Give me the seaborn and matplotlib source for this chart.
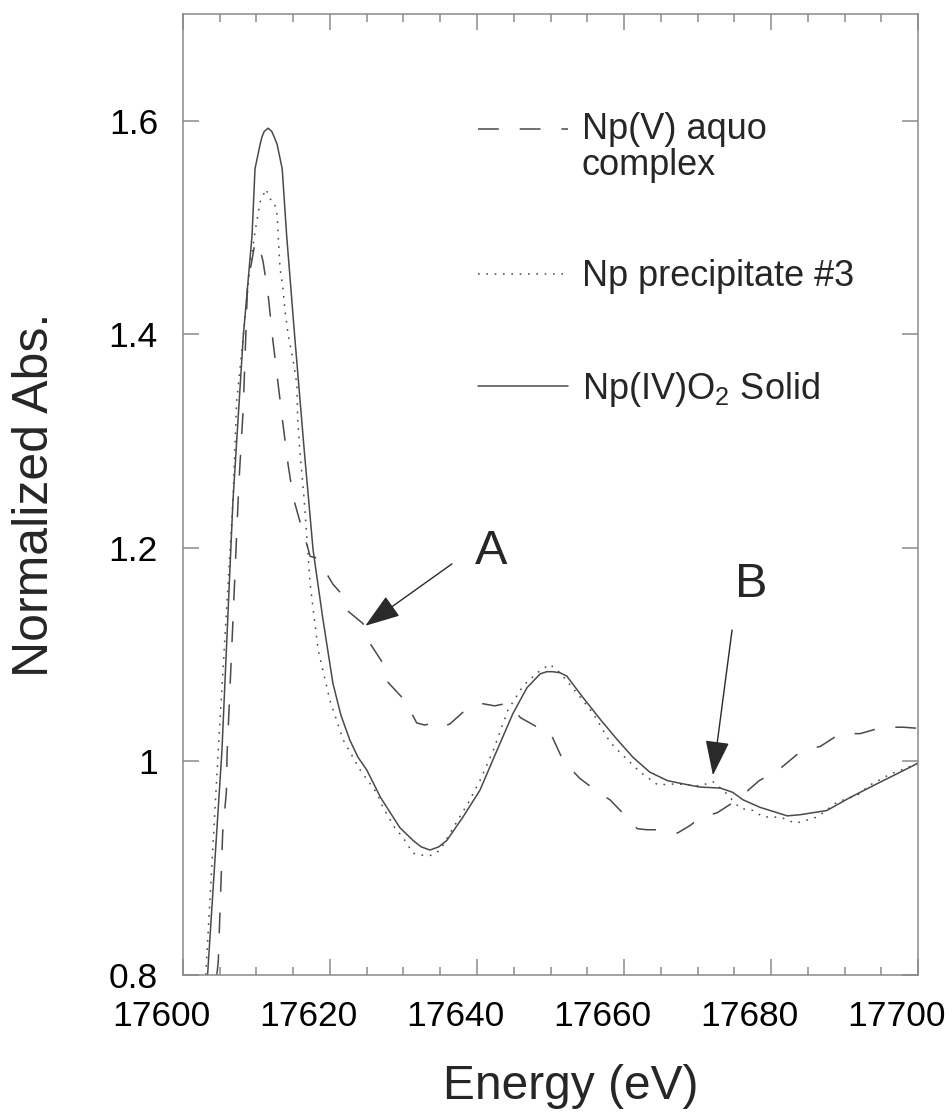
import numpy as np
import pandas as pd
import matplotlib
matplotlib.use("Agg")
import matplotlib.pyplot as plt
import seaborn as sns
from matplotlib.legend_handler import HandlerLine2D
from matplotlib.transforms import ScaledTranslation
from matplotlib.ticker import MultipleLocator, FixedLocator, FixedFormatter

# ---------------- data ----------------
energy_aquo = [17604.6, 17604.8, 17605.2, 17605.4, 17605.9, 17606.0, 17606.8, 17607.6, 17608.2,
               17608.6, 17608.8, 17609.3, 17609.7, 17610.2, 17610.9, 17611.6, 17612.2, 17612.9,
               17613.6, 17614.3, 17615.0, 17615.9, 17616.9, 17617.3, 17618.0, 17618.9, 17619.7,
               17620.4, 17621.8, 17622.4, 17624.5, 17625.4, 17627.1, 17627.9, 17630.2, 17631.8,
               17632.9, 17633.9, 17635.0, 17636.3, 17638.4, 17639.5, 17640.8, 17642.4, 17643.8,
               17644.8, 17645.9, 17647.2, 17648.2, 17649.3, 17650.3, 17651.7, 17652.9, 17654.0,
               17656.5, 17658.1, 17659.5, 17661.8, 17663.1, 17664.5, 17666.0, 17667.3, 17669.0,
               17670.3, 17672.7, 17675.4, 17676.9, 17678.4, 17681.2, 17683.8, 17685.3, 17686.7,
               17689.4, 17692.1, 17695.2, 17698.0, 17700.0]
abs_aquo = [0.800, 0.812, 0.892, 0.933, 0.971, 1.007, 1.132, 1.260, 1.331,
            1.409, 1.450, 1.466, 1.482, 1.487, 1.468, 1.436, 1.396, 1.356,
            1.316, 1.278, 1.247, 1.225, 1.202, 1.192, 1.191, 1.181, 1.174,
            1.166, 1.155, 1.141, 1.129, 1.111, 1.093, 1.074, 1.057, 1.036,
            1.034, 1.036, 1.032, 1.035, 1.048, 1.050, 1.054, 1.052, 1.054,
            1.051, 1.041, 1.036, 1.032, 1.031, 1.022, 1.001, 0.992, 0.984,
            0.971, 0.964, 0.954, 0.937, 0.936, 0.936, 0.933, 0.933, 0.940,
            0.947, 0.952, 0.964, 0.973, 0.982, 0.993, 1.008, 1.012, 1.014,
            1.026, 1.026, 1.032, 1.032, 1.031]

energy_precip = [17603.1, 17604.8, 17606.8, 17607.3, 17608.2, 17609.1, 17609.8, 17610.5, 17611.3,
                 17611.8, 17612.4, 17612.8, 17613.2, 17613.6, 17613.9, 17614.3, 17615.0, 17615.5,
                 17615.6, 17615.9, 17616.5, 17617.3, 17618.4, 17620.0, 17621.8, 17624.1, 17626.4,
                 17627.2, 17628.8, 17629.9, 17631.3, 17632.7, 17633.9, 17635.0, 17636.6, 17638.8,
                 17640.4, 17642.2, 17644.2, 17646.3, 17648.2, 17649.9, 17651.3, 17653.6, 17655.8,
                 17658.1, 17659.5, 17662.2, 17664.6, 17667.2, 17670.3, 17672.1, 17673.5, 17675.8,
                 17677.6, 17678.9, 17680.3, 17681.6, 17683.3, 17684.9, 17686.3, 17689.0, 17691.7,
                 17693.5, 17696.2, 17698.5, 17699.9]
abs_precip = [0.800, 1.010, 1.244, 1.337, 1.398, 1.462, 1.496, 1.524, 1.536,
              1.527, 1.524, 1.512, 1.462, 1.443, 1.421, 1.400, 1.375, 1.353,
              1.321, 1.291, 1.244, 1.166, 1.104, 1.057, 1.020, 0.992, 0.970,
              0.957, 0.938, 0.929, 0.914, 0.912, 0.912, 0.917, 0.936, 0.961,
              0.982, 1.010, 1.048, 1.071, 1.083, 1.091, 1.083, 1.064, 1.045,
              1.018, 1.008, 0.990, 0.978, 0.979, 0.977, 0.981, 0.973, 0.956,
              0.954, 0.948, 0.948, 0.947, 0.942, 0.945, 0.948, 0.962, 0.968,
              0.978, 0.988, 0.994, 0.998]

energy_solid = [17603.3, 17605.3, 17606.8, 17608.2, 17609.4, 17609.8, 17610.5, 17610.75, 17611.06,
                17611.6, 17612.07, 17612.4, 17612.8, 17613.5, 17614.1, 17615.2, 17616.5, 17617.7,
                17619.0, 17620.4, 17621.5, 17622.7, 17623.8, 17625.0, 17626.9, 17629.5, 17631.3,
                17632.4, 17633.6, 17634.8, 17635.9, 17638.1, 17640.4, 17642.7, 17644.9, 17646.8,
                17648.6, 17649.5, 17650.3, 17651.3, 17652.2, 17654.4, 17656.7, 17659.0, 17661.2,
                17663.5, 17665.9, 17668.0, 17670.3, 17673.1, 17674.8, 17676.2, 17678.5, 17682.2,
                17683.9, 17687.6, 17690.7, 17694.4, 17697.6, 17699.9]
abs_solid = [0.795, 1.010, 1.244, 1.398, 1.493, 1.555, 1.578, 1.585, 1.590,
             1.593, 1.590, 1.585, 1.578, 1.555, 1.493, 1.398, 1.291, 1.198,
             1.135, 1.073, 1.043, 1.020, 1.004, 0.992, 0.966, 0.938, 0.926,
             0.920, 0.917, 0.920, 0.926, 0.948, 0.973, 1.010, 1.045, 1.069,
             1.082, 1.084, 1.084, 1.083, 1.080, 1.060, 1.040, 1.021, 1.004,
             0.990, 0.982, 0.979, 0.976, 0.975, 0.971, 0.964, 0.957, 0.949,
             0.950, 0.954, 0.966, 0.979, 0.990, 0.998]

series_names = ["Np(V) aquo\ncomplex", "Np precipitate #3", "Np(IV)O$_2$ Solid"]
x_ticks = [17600, 17620, 17640, 17660, 17680, 17700]
y_ticks = [0.8, 1.0, 1.2, 1.4, 1.6]
y_tick_labels = ["0.8", "1", "1.2", "1.4", "1.6"]

df = pd.concat([
    pd.DataFrame({"energy": energy_aquo, "absorbance": abs_aquo, "sample": series_names[0]}),
    pd.DataFrame({"energy": energy_precip, "absorbance": abs_precip, "sample": series_names[1]}),
    pd.DataFrame({"energy": energy_solid, "absorbance": abs_solid, "sample": series_names[2]}),
], ignore_index=True)

# ---------------- style ----------------
sns.set_theme(style="white")
plt.rcParams["font.family"] = ["Liberation Sans", "DejaVu Sans"]
plt.rcParams["mathtext.fontset"] = "custom"
plt.rcParams["mathtext.rm"] = "Liberation Sans"
plt.rcParams["mathtext.it"] = "Liberation Sans"
plt.rcParams["lines.scale_dashes"] = False

line_color = "#4a4a4a"
axis_color = "#8a8a8a"

fig = plt.figure(figsize=(9.53, 11.15), dpi=100)
ax = fig.add_axes([0.192, 0.1256, 0.7713, 0.8619])

sns.lineplot(data=df, x="energy", y="absorbance", hue="sample", style="sample",
             hue_order=series_names, style_order=series_names,
             palette={n: line_color for n in series_names},
             dashes={series_names[0]: (15, 15), series_names[1]: (1.2, 4.8), series_names[2]: ""},
             estimator=None, sort=False, linewidth=1.1, legend=False, ax=ax)

ax.set_xlim(17600, 17700)
ax.set_ylim(0.8, 1.7)

# ticks
ax.xaxis.set_major_locator(FixedLocator(x_ticks))
ax.xaxis.set_minor_locator(MultipleLocator(5))
ax.yaxis.set_major_locator(FixedLocator(y_ticks))
ax.yaxis.set_major_formatter(FixedFormatter(y_tick_labels))
ax.set_xticklabels([str(t) for t in x_ticks])
ax.tick_params(which="both", direction="in", top=True, right=True, bottom=True, left=True,
               color=axis_color, width=1.1, labelsize=25.5, labelcolor="black")
ax.tick_params(which="major", length=11.5)
ax.tick_params(which="minor", length=5.8)
ax.tick_params(axis="x", pad=18)
ax.tick_params(axis="y", pad=18)
for sp in ax.spines.values():
    sp.set_color(axis_color)
    sp.set_linewidth(1.1)
    sp.set_visible(True)

shift = ScaledTranslation(-22 / 100, 0, fig.dpi_scale_trans)
for lab in ax.get_xticklabels():
    lab.set_transform(lab.get_transform() + shift)

ax.set_xlabel("Energy (eV)", fontsize=34.5)
ax.set_ylabel("Normalized Abs.", fontsize=36)
ax.xaxis.set_label_coords(0.527, -0.093)
ax.yaxis.set_label_coords(-0.170, 0.5)


# legend
class OffsetLineHandler(HandlerLine2D):
    def __init__(self, dy=0.0, **kw):
        super().__init__(**kw)
        self.dy = dy

    def create_artists(self, legend, orig_handle, xdescent, ydescent, width, height, fontsize, trans):
        arts = super().create_artists(legend, orig_handle, xdescent, ydescent, width, height, fontsize, trans)
        for a in arts:
            a.set_ydata(np.asarray(a.get_ydata(), dtype=float) + self.dy * fontsize)
        return arts


lines = ax.get_lines()[:3]
leg = ax.legend(handles=lines, labels=series_names, loc="upper left",
                bbox_to_anchor=(0.401, 0.898), frameon=False, fontsize=26,
                handlelength=2.49, handletextpad=0.39, labelspacing=2.1,
                borderpad=0, borderaxespad=0,
                handler_map={lines[0]: OffsetLineHandler(dy=0.53)})
leg.get_texts()[0].set_linespacing(1.05)

# annotations
arrow_kw = dict(arrowstyle="-|>,head_length=1.1,head_width=0.38", color="#2a2a2a",
                lw=1.0, mutation_scale=20, shrinkA=0, shrinkB=0)
ax.annotate("", xy=(17624.8, 1.127), xytext=(17636.6, 1.185), arrowprops=arrow_kw)
ax.annotate("", xy=(17672.1, 0.987), xytext=(17674.7, 1.123), arrowprops=arrow_kw)
ax.text(17641.9, 1.197, "A", fontsize=35, ha="center", va="center")
ax.text(17677.3, 1.166, "B", fontsize=35, ha="center", va="center")

fig.savefig("out.png", dpi=100)
